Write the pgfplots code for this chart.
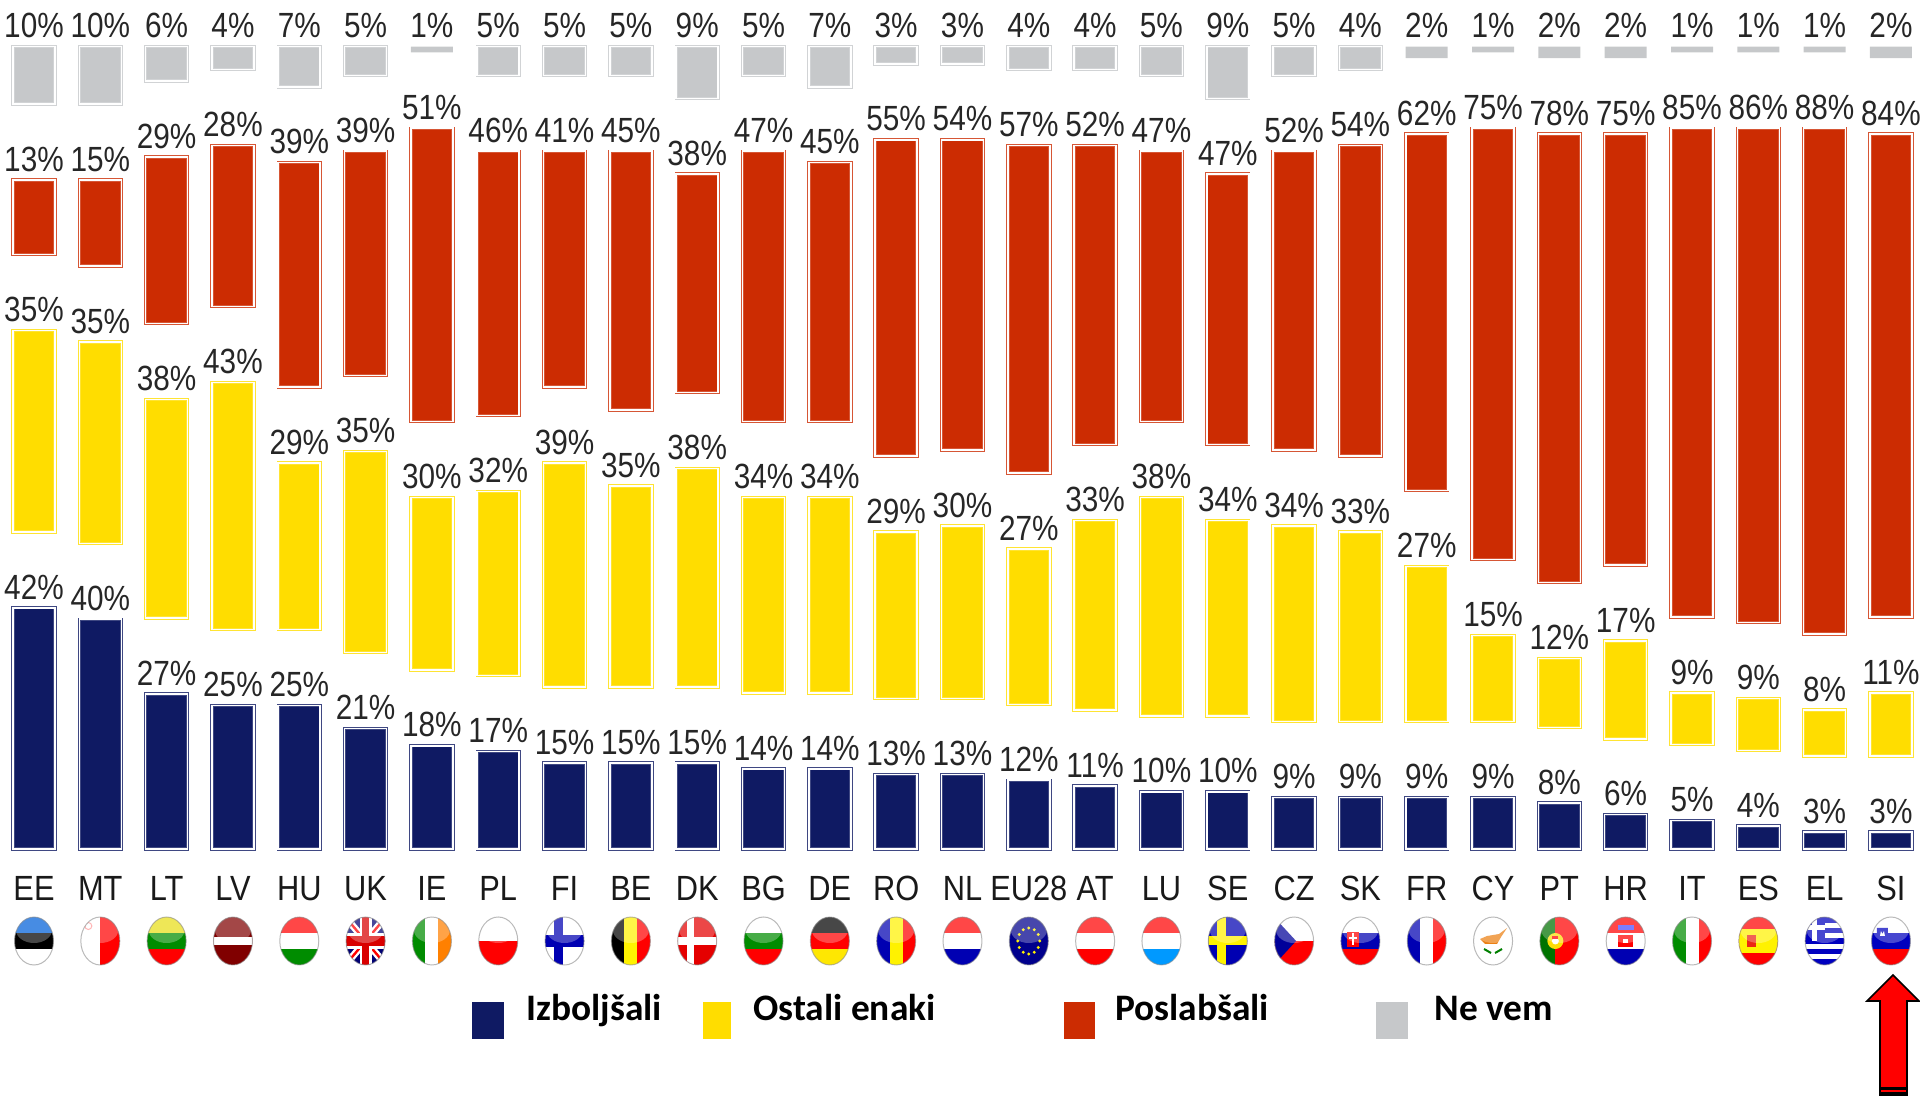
\documentclass[border=0pt]{standalone}
\usepackage{graphicx}
\usepackage{fontspec}
\setmainfont{Liberation Sans}
\newfontfamily\legendfont{Carlito}[BoldFont={Carlito Bold}]
\usepackage{pgfplots}
\usepackage{pgfplotstable}
\pgfplotsset{compat=1.18}
\definecolor{cB}{HTML}{0F1A63}
\definecolor{cY}{HTML}{FFDD00}
\definecolor{cR}{HTML}{CC2C02}
\definecolor{cG}{HTML}{C6C8CA}
\pgfplotstableread{
x B  s1 Y  s2 R  s3
0  42 13.2 35 13.2 13 13.2
1  40 13.2 35 13.2 15 13.2
2  27 13.2 38 13.2 29 13.2
3  25 13.2 43 13.2 28 13.2
4  25 13.2 29 13.2 39 13.2
5  21 13.2 35 13.2 39 13.2
6  18 13.2 30 13.2 51 13.2
7  17 13.2 32 13.2 46 13.2
8  15 13.2 39 13.2 41 13.2
9  15 13.2 35 13.2 45 13.2
10 15 13.2 38 13.2 38 13.2
11 14 13.2 34 13.2 47 13.2
12 14 13.2 34 13.2 45 13.2
13 13 13.2 29 13.2 55 13.2
14 13 13.2 30 13.2 54 13.2
15 12 13.2 27 13.2 57 13.2
16 11 13.2 33 13.2 52 13.2
17 10 13.2 38 13.2 47 13.2
18 10 13.2 34 13.2 47 13.2
19 9  13.2 34 13.2 52 13.2
20 9  13.2 33 13.2 54 13.2
21 9  13.2 27 13.2 62 13.2
22 9  13.2 15 13.2 75 13.2
23 8  13.2 12 13.2 78 13.2
24 6  13.2 17 13.2 75 13.2
25 5  13.2 9  13.2 85 13.2
26 4  13.2 9  13.2 86 13.2
27 3  13.2 8  13.2 88 13.2
28 3  13.2 11 13.2 84 13.2
}\datatable
% grey bars of 3% and more, with the level at which each one starts
\pgfplotstableread{
x  base  G
0  129.6 10
1  129.6 10
2  133.6 6
3  135.6 4
4  132.6 7
5  134.6 5
7  134.6 5
8  134.6 5
9  134.6 5
10 130.6 9
11 134.6 5
12 132.6 7
13 136.6 3
14 136.6 3
15 135.6 4
16 135.6 4
17 134.6 5
18 130.6 9
19 134.6 5
20 135.6 4
}\greytable
\pgfplotsset{
  lbl/.style={
    visualization depends on={rawy \as \rawyval},
    nodes near coords={\scalebox{0.85}[1]{\pgfmathprintnumber[assume math mode=true]{\pgfplotspointmeta}\%}},
    every node near coord/.style={anchor=south,inner sep=0pt,yshift=\rawyval*1.4375pt+4pt,text=black!85,font=\fontsize{17.5}{20}\selectfont}},
  dbar/.style={fill=#1,draw=#1!80!white,line width=.45pt,double=white,double distance=.8pt},
  geom/.style={at={(0,0)},anchor=south west,
    scale only axis,width=960pt,height=551pt,
    xmin=-0.5127,xmax=28.438,ymin=-43.97,ymax=147.7,
    ybar stacked,bar width=21pt,clip=false},
}
\newcommand\nr[1]{\scalebox{0.88}[1]{#1}}
\newcommand\hb[3]{\fill[#1](-22,-26)rectangle(22,-8);\fill[#2](-22,-8)rectangle(22,8);\fill[#3](-22,8)rectangle(22,26);}
\newcommand\vb[3]{\fill[#1](-22,-26)rectangle(-6.5,26);\fill[#2](-6.5,-26)rectangle(6.5,26);\fill[#3](6.5,-26)rectangle(22,26);}
\newcommand\flag[2]{\begin{scope}[shift={({34+66.32*#1},941)}]
  \begin{scope}\clip (0,0) ellipse (19.5 and 24);
  #2
  \fill[white,opacity=.28](0,-11) ellipse (18 and 13);
  \end{scope}
  \draw[black!45,opacity=.6,line width=.5pt](0,0) ellipse (19.5 and 24);
  \end{scope}}
\begin{document}
\begin{tikzpicture}
\path[use as bounding box] (0,0) rectangle (960pt,551pt);
\begin{axis}[geom,
  axis line style={draw=none},major tick length=0pt,
  ytick=\empty,
  xtick={0,...,28},
  xticklabels={\nr{EE},\nr{MT},\nr{LT},\nr{LV},\nr{HU},\nr{UK},\nr{IE},\nr{PL},\nr{FI},\nr{BE},\nr{DK},\nr{BG},\nr{DE},\nr{RO},\nr{NL},\nr{EU28},\nr{AT},\nr{LU},\nr{SE},\nr{CZ},\nr{SK},\nr{FR},\nr{CY},\nr{PT},\nr{HR},\nr{IT},\nr{ES},\nr{EL},\nr{SI}},
  xticklabel style={yshift=113pt,inner sep=0pt,text=black!90,font=\fontsize{17.5}{20}\selectfont},
]
\addplot[dbar=cB,lbl] table[x=x,y=B]{\datatable};
\addplot[draw=none,fill=none] table[x=x,y=s1]{\datatable};
\addplot[dbar=cY,lbl] table[x=x,y=Y]{\datatable};
\addplot[draw=none,fill=none] table[x=x,y=s2]{\datatable};
\addplot[dbar=cR,lbl] table[x=x,y=R]{\datatable};
\addplot[draw=none,fill=none] table[x=x,y=s3]{\datatable};
\addplot[draw=none,fill=cG,point meta=explicit symbolic,
   visualization depends on={rawy \as \rawyval},
   nodes near coords={\scalebox{0.85}[1]{\pgfplotspointmeta}},
   every node near coord/.style={anchor=south,inner sep=0pt,yshift=\rawyval*1.4375pt+4pt,text=black!85,font=\fontsize{17.5}{20}\selectfont}]
 coordinates {(0,0)[] (1,0)[] (2,0)[] (3,0)[] (4,0)[] (5,0)[] (6,1)[1\%] (7,0)[] (8,0)[] (9,0)[] (10,0)[] (11,0)[] (12,0)[] (13,0)[] (14,0)[] (15,0)[] (16,0)[] (17,0)[] (18,0)[] (19,0)[] (20,0)[] (21,2)[2\%] (22,1)[1\%] (23,2)[2\%] (24,2)[2\%] (25,1)[1\%] (26,1)[1\%] (27,1)[1\%] (28,2)[2\%]};
\end{axis}
\begin{axis}[geom,hide axis]
\addplot[draw=none,fill=none] table[x=x,y=base]{\greytable};
\addplot[dbar=cG,lbl] table[x=x,y=G]{\greytable};
\end{axis}
\begin{scope}[x=.5pt,y=-.5pt,shift={(0,-1102)}]
% legend
\fill[cB](472,1002)rectangle(504,1039);
\fill[cY](703,1002)rectangle(731,1039);
\fill[cR](1064,1002)rectangle(1095,1039);
\fill[cG](1376,1002)rectangle(1408,1039);
\foreach \xx/\lab in {526/Izboljšali,753/Ostali enaki,1115/Poslabšali,1434/Ne vem}
  \node[anchor=base west,inner sep=0pt,font=\legendfont\bfseries\fontsize{18.7}{20}\selectfont] at (\xx,1020) {\lab};
% arrow
\draw[fill=red,draw=black,line width=.8pt,line join=miter](1893,975)--(1919,1001)--(1907,1001)--(1907,1095)--(1880,1095)--(1880,1001)--(1867,1001)--cycle;
\fill[black](1880,1087)rectangle(1907,1096);
\fill[red](1881,1089.5)rectangle(1906,1091.5);
% flags
\flag{0}{\hb{blue!55!cyan!85!black}{black}{white}}
\flag{1}{\fill[white](-22,-26)rectangle(0,26);\fill[red](0,-26)rectangle(22,26);\draw[red!40,line width=.5pt](-12,-15)circle(3.5);}
\flag{2}{\hb{yellow!90!black}{green!55!black}{red}}
\flag{3}{\fill[red!50!black](-22,-26)rectangle(22,26);\fill[white](-22,-4)rectangle(22,4);}
\flag{4}{\hb{red}{white}{green!55!black}}
\flag{5}{\fill[blue!45!black](-22,-26)rectangle(22,26);
  \draw[white,line width=3.5pt](-22,-26)--(22,26)(-22,26)--(22,-26);
  \draw[red,line width=1.2pt](-22,-26)--(22,26)(-22,26)--(22,-26);
  \fill[white](-6,-26)rectangle(6,26);\fill[white](-22,-8)rectangle(22,8);
  \fill[red!85!black](-3.5,-26)rectangle(3.5,26);\fill[red!85!black](-22,-5)rectangle(22,5);}
\flag{6}{\vb{green!55!black}{white}{orange}}
\flag{7}{\fill[white](-22,-26)rectangle(22,0);\fill[red](-22,0)rectangle(22,26);}
\flag{8}{\fill[white](-22,-26)rectangle(22,26);\fill[blue!70!black](-22,-6)rectangle(22,6);\fill[blue!70!black](-11,-26)rectangle(-2,26);}
\flag{9}{\vb{black}{yellow}{red}}
\flag{10}{\fill[red!90!black](-22,-26)rectangle(22,26);\fill[white](-22,-4)rectangle(22,4);\fill[white](-10,-26)rectangle(-3,26);}
\flag{11}{\hb{white}{green!55!black}{red}}
\flag{12}{\hb{black}{red}{yellow!90!orange}}
\flag{13}{\vb{blue!70!black}{yellow}{red}}
\flag{14}{\hb{red}{white}{blue!70!black}}
\flag{15}{\fill[blue!55!black](-22,-26)rectangle(22,26);\foreach\a in {0,30,...,330}\fill[yellow](\a:11 and 13)circle(1.6);}
\flag{16}{\hb{red}{white}{red}}
\flag{17}{\hb{red}{white}{blue!40!cyan}}
\flag{18}{\fill[blue!70!black](-22,-26)rectangle(22,26);\fill[yellow](-22,-4.5)rectangle(22,4.5);\fill[yellow](-11,-26)rectangle(-2,26);}
\flag{19}{\fill[white](-22,-26)rectangle(22,0);\fill[red](-22,0)rectangle(22,26);\fill[blue!60!black](-22,-26)--(2,0)--(-22,26)--cycle;}
\flag{20}{\hb{white}{blue!70!black}{red}\fill[red](-13,-9)rectangle(-1,6);\fill[white](-8,-8)rectangle(-6,4);\fill[white](-11,-4)rectangle(-3,-2);}
\flag{21}{\vb{blue!70!black}{white}{red}}
\flag{22}{\fill[white](-22,-26)rectangle(22,26);\fill[orange!70!brown](-13,-2)--(-6,-5)--(6,-7)--(14,-13)--(8,-4)--(4,3)--(-8,3)--cycle;\draw[green!50!black,line width=1pt](-9,8)--(-2,12)(9,8)--(2,12);}
\flag{23}{\fill[green!45!black](-22,-26)rectangle(-4,26);\fill[red](-4,-26)rectangle(22,26);\fill[yellow!80!orange](-4,0)circle(8);\fill[white](-4,0)circle(3.5);\fill[red](-7,-5)rectangle(-1,-2);}
\flag{24}{\hb{red}{white}{blue!70!black}\foreach\i in {-1,0,1}\foreach\j in {-1,1}{\fill[red](\i*5-2.5,\j*4-2)rectangle(\i*5+2.5,\j*4+2);}\fill[white](-2.5,-2)rectangle(2.5,2);\fill[red](-7.5,-2)rectangle(-2.5,2);\fill[red](2.5,-2)rectangle(7.5,2);\fill[blue!70!white](-8,-16)rectangle(8,-11);}
\flag{25}{\vb{green!55!black}{white}{red}}
\flag{26}{\fill[red](-22,-26)rectangle(22,26);\fill[yellow](-22,-12)rectangle(22,12);\fill[red!70!brown](-11,-6)rectangle(-2,6);}
\flag{27}{\fill[white](-22,-26)rectangle(22,26);\foreach\yy in {-21,-10.5,0,10.5,21}\fill[blue!75!black](-22,\yy-2.7)rectangle(22,\yy+2.7);\fill[blue!75!black](-22,-26)rectangle(0,0);\fill[white](-13,-26)rectangle(-8,0);\fill[white](-22,-15.5)rectangle(0,-10.5);}
\flag{28}{\hb{white}{blue!75!black}{red}\fill[blue!75!black](-14,-13)--(-3,-13)--(-3,-5)--(-8.5,-1)--(-14,-5)--cycle;\fill[white](-10,-10)--(-8.5,-7)--(-7,-10)--(-6,-5)--(-11,-5)--cycle;}
\end{scope}
\end{tikzpicture}
\end{document}
